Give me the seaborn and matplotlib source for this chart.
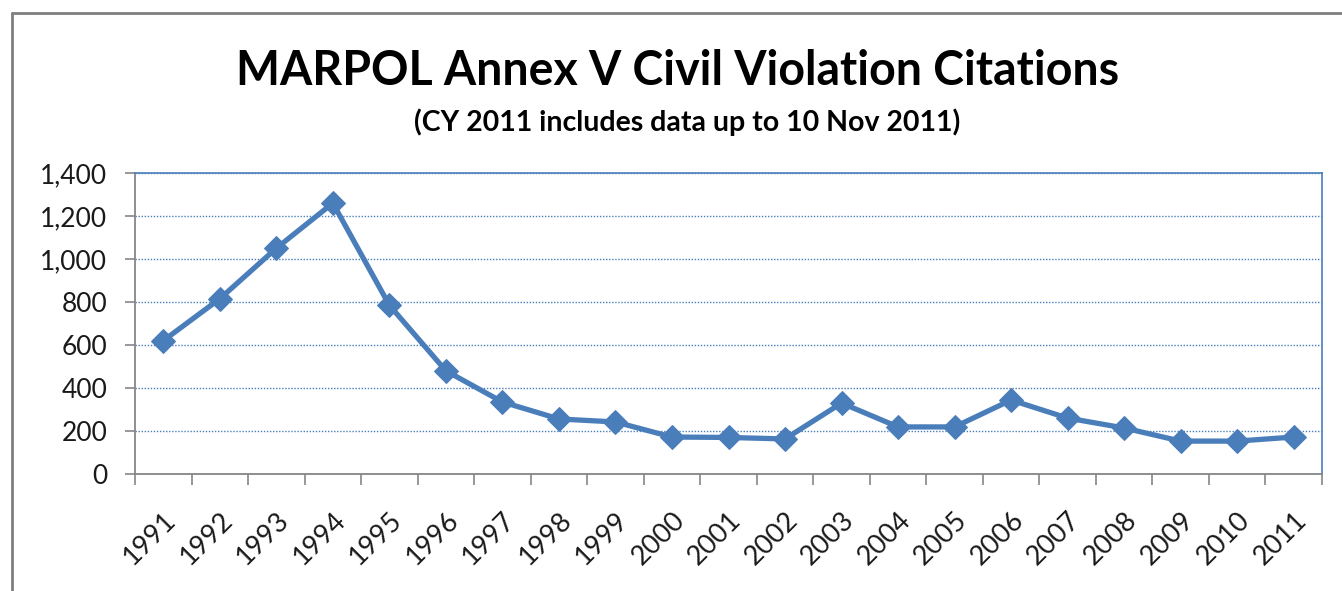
import matplotlib.pyplot as plt
import matplotlib.ticker as mticker
import seaborn as sns
import pandas as pd
from matplotlib.lines import Line2D

years = [str(y) for y in range(1991, 2012)]
citations = [620, 815, 1050, 1260, 785, 480, 335, 256, 242, 172, 170, 163,
             330, 219, 219, 344, 260, 214, 153, 153, 172]

df = pd.DataFrame({"year": years, "citations": citations})

sns.set_theme(style="white")
plt.rcParams['font.family'] = ['Lato', 'DejaVu Sans']

blue = '#4a7ebb'
gray = '#868686'

fig = plt.figure(figsize=(13.42, 5.91), dpi=100)
ax = fig.add_axes([135/1342, 1-474/591, (1322-135)/1342, (474-173)/591])

sns.lineplot(data=df, x="year", y="citations", ax=ax, color=blue,
             linewidth=3.8, marker='D', markersize=12, markeredgecolor=blue,
             sort=False)

ax.set_xlim(-0.5, len(years) - 0.5)
ax.set_ylim(0, 1400)
ax.yaxis.set_major_locator(mticker.MultipleLocator(200))
ax.yaxis.set_major_formatter(mticker.FuncFormatter(lambda v, p: f"{int(v):,}"))
ax.set_xlabel("")
ax.set_ylabel("")

ax.set_xticks(range(len(years)))
ax.set_xticklabels(years, rotation=45, ha='right', rotation_mode='anchor',
                   fontsize=19.5, color='#1a1a1a')
ax.set_xticks([i - 0.5 for i in range(len(years) + 1)], minor=True)
ax.tick_params(axis='x', which='major', length=0, pad=24)
ax.tick_params(axis='x', which='minor', length=8, width=1.2, color=gray,
               direction='out', bottom=True)
ax.tick_params(axis='y', which='major', length=7, width=1.2, color=gray,
               direction='out', left=True, labelsize=19, labelcolor='#1a1a1a',
               pad=13)

ax.yaxis.grid(True, color=blue, linestyle=(0, (1, 1.2)), linewidth=1)
ax.set_axisbelow(True)

for side in ['left', 'bottom']:
    ax.spines[side].set_color(gray)
    ax.spines[side].set_linewidth(1.3)
for side in ['top', 'right']:
    ax.spines[side].set_color(blue)
    ax.spines[side].set_linewidth(1.2)

fig.text(0.505, 1-71/591, "MARPOL Annex V Civil Violation Citations",
         ha='center', va='center', fontsize=33.5, fontweight='bold', color='black')
fig.text(0.512, 1-122/591, "(CY 2011 includes data up to 10 Nov 2011)",
         ha='center', va='center', fontsize=20.5, fontweight='bold', color='black')

# outer chart frame
fig.add_artist(Line2D([12/1342, 12/1342], [0, 1-13/591], color='#7f7f7f',
                      linewidth=2, transform=fig.transFigure))
fig.add_artist(Line2D([12/1342, 1], [1-13/591, 1-13/591], color='#7f7f7f',
                      linewidth=2, transform=fig.transFigure))

fig.savefig("out.png", dpi=100)
